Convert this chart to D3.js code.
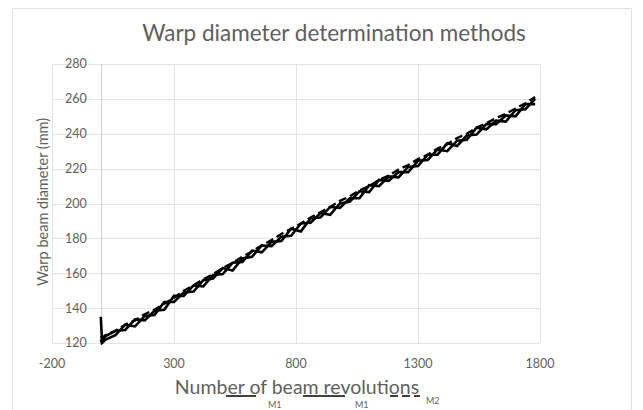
<!DOCTYPE html>
<html>
<head>
<meta charset="utf-8">
<script src="https://cdn.jsdelivr.net/npm/d3@7"></script>
<style>
  html, body { margin: 0; padding: 0; background: #fff; }
  svg { display: block; font-family: Lato, "Open Sans", sans-serif; }
</style>
</head>
<body>
<svg id="chart" width="643" height="410"></svg>
<script>
// Beam revolutions at which the diameter was sampled
const revolutions = [0, 5, 20, 60, 100, 140, 180, 220, 260, 300, 340, 380, 420, 460, 500,
  540, 580, 620, 660, 700, 740, 780, 820, 860, 900, 940, 980, 1020, 1060, 1100, 1140,
  1180, 1220, 1260, 1300, 1340, 1380, 1420, 1460, 1500, 1540, 1580, 1620, 1660, 1700,
  1740, 1780];

// Warp beam diameter (mm) per method
const methodA = [135, 121, 124, 127, 127.5, 133.5, 133, 138.5, 139, 147, 147, 153, 152.5,
  159, 159.5, 166, 166.5, 173, 172, 178, 178.5, 185.5, 184, 191.5, 192, 198, 197.5, 203,
  203, 210.5, 210, 215.5, 215, 221, 221.5, 228, 228, 234.5, 233, 239, 239.5, 245.5, 245.5,
  250.5, 250, 257, 257];
const methodB = [122, 120, 122, 124.5, 130.5, 129.5, 135.5, 136, 143.5, 143.5, 149, 149.5,
  156, 157, 163, 161.5, 168.5, 169.5, 176, 175.5, 181, 181.5, 188.5, 189, 194.5, 193.5,
  200, 201, 207, 206.5, 213.5, 213, 218, 218, 224.5, 225, 231, 230, 236, 236.5, 243.5,
  242.5, 247.5, 247, 253.5, 254, 260];
const methodC = [124, 123, 124.5, 127, 130.5, 133, 136.5, 139, 142.5, 146, 150, 153, 156.5,
  159.5, 163, 166, 169.5, 172.5, 176, 179, 182.5, 185.5, 188.5, 192, 195, 198, 201.5, 204,
  207.5, 210, 213.5, 216, 219.5, 222, 225.5, 228, 231.5, 234, 237.5, 240, 243.5, 246, 249,
  251.5, 254.5, 257.5, 261];

const seriesNames = ["M1", "M1", "M2"];
const xTicks = [-200, 300, 800, 1300, 1800];
const yTicks = [120, 140, 160, 180, 200, 220, 240, 260, 280];

const titleText = "Warp diameter determination methods";
const xTitle = "Number of beam revolutions";
const yTitle = "Warp beam diameter (mm)";

const svg = d3.select("#chart");
const textColor = "#5f5f5f";

// chart frame
svg.append("path")
  .attr("d", "M12.5,410 V8.5 H631.5 V410")
  .attr("fill", "none")
  .attr("stroke", "#e3e3e3");

const x = d3.scaleLinear().domain([-200, 1800]).range([52, 540]);
const y = d3.scaleLinear().domain([120, 280]).range([343, 64]);

// horizontal gridlines
svg.append("g")
  .selectAll("line")
  .data(yTicks)
  .join("line")
  .attr("x1", x(-200)).attr("x2", x(1800))
  .attr("y1", d => Math.round(y(d)) + 0.5).attr("y2", d => Math.round(y(d)) + 0.5)
  .attr("stroke", "#e4e4e4");

// vertical gridlines
svg.append("g")
  .selectAll("line")
  .data(xTicks)
  .join("line")
  .attr("x1", d => Math.round(x(d)) + 0.5).attr("x2", d => Math.round(x(d)) + 0.5)
  .attr("y1", y(280)).attr("y2", y(120))
  .attr("stroke", "#e4e4e4");

// value axis sits at zero revolutions
svg.append("line")
  .attr("x1", Math.round(x(0)) + 0.5).attr("x2", Math.round(x(0)) + 0.5)
  .attr("y1", y(280)).attr("y2", y(120))
  .attr("stroke", "#d0d0d0");

// y tick labels, next to the axis
svg.append("g")
  .selectAll("text")
  .data(yTicks)
  .join("text")
  .attr("x", x(0) - 14)
  .attr("y", d => y(d))
  .attr("dy", "0.35em")
  .attr("text-anchor", "end")
  .attr("font-size", 12.5)
  .attr("fill", textColor)
  .text(d => d);

// x tick labels
svg.append("g")
  .selectAll("text")
  .data(xTicks)
  .join("text")
  .attr("x", d => x(d))
  .attr("y", 364)
  .attr("dy", "0.35em")
  .attr("text-anchor", "middle")
  .attr("font-size", 12.5)
  .attr("fill", textColor)
  .text(d => d);

// data lines
const line = d3.line()
  .x((d, i) => x(revolutions[i]))
  .y(d => y(d));

const series = [
  { values: methodC, dash: "8,4", width: 2.4 },
  { values: methodB, dash: null, width: 2.6 },
  { values: methodA, dash: null, width: 2.6 }
];

svg.append("g")
  .selectAll("path")
  .data(series)
  .join("path")
  .attr("d", d => line(d.values))
  .attr("fill", "none")
  .attr("stroke", "#000")
  .attr("stroke-width", d => d.width)
  .attr("stroke-dasharray", d => d.dash)
  .attr("stroke-linejoin", "miter");

// title
svg.append("text")
  .attr("x", 334).attr("y", 41)
  .attr("text-anchor", "middle")
  .attr("font-size", 22.5)
  .attr("fill", textColor)
  .text(titleText);

// axis titles
svg.append("text")
  .attr("transform", "translate(48,202) rotate(-90)")
  .attr("text-anchor", "middle")
  .attr("font-size", 14.5)
  .attr("fill", textColor)
  .text(yTitle);

// legend along the bottom edge, just under the x axis title
const legendItems = [
  { name: seriesNames[0], x1: 226, x2: 256, lx: 268, ly: 408, dash: null },
  { name: seriesNames[1], x1: 303, x2: 345, lx: 355, ly: 408, dash: null },
  { name: seriesNames[2], x1: 390, x2: 420, lx: 426, ly: 404, dash: "8,4" }
];
const legend = svg.append("g");
legend.selectAll("line")
  .data(legendItems)
  .join("line")
  .attr("x1", d => d.x1).attr("x2", d => d.x2)
  .attr("y1", 396).attr("y2", 396)
  .attr("stroke", "#000")
  .attr("stroke-width", 1.5)
  .attr("stroke-dasharray", d => d.dash);
legend.selectAll("text")
  .data(legendItems)
  .join("text")
  .attr("x", d => d.lx)
  .attr("y", d => d.ly)
  .attr("font-size", 9)
  .attr("fill", textColor)
  .text(d => d.name);

svg.append("text")
  .attr("x", 297).attr("y", 394)
  .attr("text-anchor", "middle")
  .attr("font-size", 19.5)
  .attr("fill", textColor)
  .text(xTitle);
</script>
</body>
</html>
